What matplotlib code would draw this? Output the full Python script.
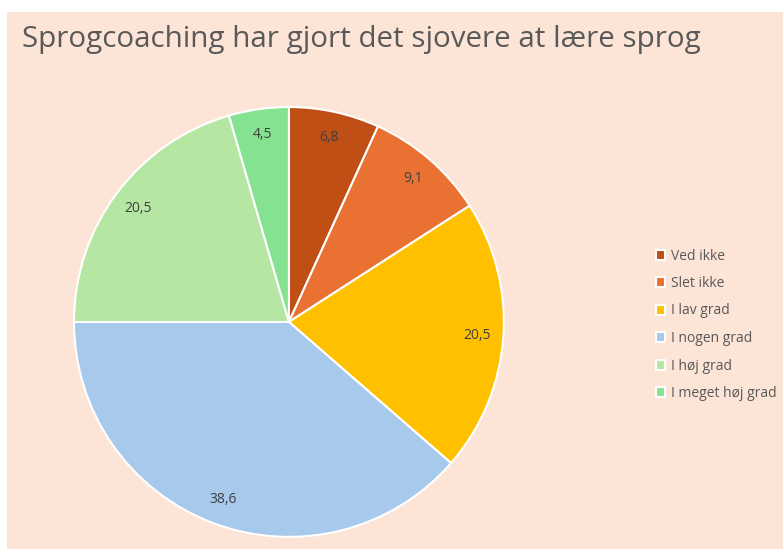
import matplotlib.pyplot as plt
from matplotlib.patches import Rectangle

plt.rcParams['font.family'] = ['Open Sans', 'DejaVu Sans']

labels = ['Ved ikke', 'Slet ikke', 'I lav grad', 'I nogen grad', 'I høj grad', 'I meget høj grad']
values = [6.8, 9.1, 20.5, 38.6, 20.5, 4.5]
value_text = ['6,8', '9,1', '20,5', '38,6', '20,5', '4,5']
colors = ['#C04F15', '#E97132', '#FFC000', '#A6C9EC', '#B5E6A2', '#84E291']

bg = '#FCE4D6'
grey = '#595959'

fig = plt.figure(figsize=(7.83, 5.55), dpi=100, facecolor='white')
fig.patches.append(Rectangle((7 / 783, 6 / 555), 776 / 783, 537 / 555,
                             transform=fig.transFigure, facecolor=bg,
                             edgecolor='none', zorder=-10))

fig.text(22 / 783, 1 - 40 / 555, 'Sprogcoaching har gjort det sjovere at lære sprog',
         fontsize=21.3, color=grey, va='center', ha='left')

ax = fig.add_axes([0.0945, 0.0324, 0.549, 0.775])
ax.patch.set_visible(False)
ax.set_zorder(5)
wedges, texts = ax.pie(values, colors=colors, startangle=90, counterclock=False,
                       labels=value_text, labeldistance=0.88,
                       wedgeprops=dict(edgecolor='white', linewidth=1.5),
                       textprops=dict(color='#404040', fontsize=10))
for t in texts:
    t.set_ha('center')
    t.set_va('center')
ax.set_xlim(-1, 1)
ax.set_ylim(-1, 1)
ax.set_aspect('equal')

fig.legend(wedges, labels, loc='upper left', bbox_to_anchor=(643 / 783, 1 - 236 / 555),
           frameon=False, fontsize=10, labelcolor=grey, handlelength=0.7,
           handleheight=0.7, handletextpad=0.4, labelspacing=0.9)

fig.savefig('out.png', dpi=100)
